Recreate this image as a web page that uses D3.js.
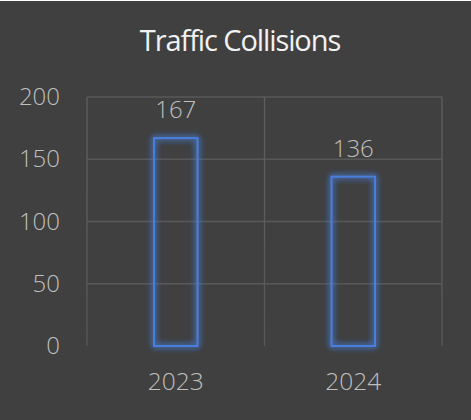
<!DOCTYPE html>
<html>
<head>
<meta charset="utf-8">
<script src="https://cdn.jsdelivr.net/npm/d3@7"></script>
<style>
  html, body { margin: 0; padding: 0; background: #ffffff; }
  svg { display: block; }
</style>
</head>
<body>
<div id="chart"></div>
<script>
// chart data
var years = ["2023", "2024"];
var collisions = [167, 136];
var yTicks = [0, 50, 100, 150, 200];
var chartTitle = "Traffic Collisions";

var W = 471, H = 420;
var margin = {top: 97, right: 29, bottom: 74, left: 87};
var width = W - margin.left - margin.right,
    height = H - margin.top - margin.bottom;

var svg = d3.select("#chart")
  .append("svg")
    .attr("width", W)
    .attr("height", H);

// background
svg.append("rect")
    .attr("x", 0).attr("y", 1)
    .attr("width", W).attr("height", H - 1)
    .attr("fill", "#404040");

var defs = svg.append("defs");

// glow around bar outlines
var glow = defs.append("filter")
    .attr("id", "glow")
    .attr("x", "-50%").attr("y", "-20%")
    .attr("width", "200%").attr("height", "140%");
glow.append("feGaussianBlur")
    .attr("in", "SourceGraphic")
    .attr("stdDeviation", 3.2)
    .attr("result", "blur");
var merge = glow.append("feMerge");
merge.append("feMergeNode").attr("in", "blur");
merge.append("feMergeNode").attr("in", "blur");
merge.append("feMergeNode").attr("in", "SourceGraphic");

// vertical gridlines fade out toward the bottom
var fade = defs.append("linearGradient")
    .attr("id", "fade")
    .attr("gradientUnits", "userSpaceOnUse")
    .attr("x1", 0).attr("y1", margin.top)
    .attr("x2", 0).attr("y2", margin.top + height);
fade.append("stop").attr("offset", "0%").attr("stop-color", "#5e5e5e");
fade.append("stop").attr("offset", "60%").attr("stop-color", "#575757");
fade.append("stop").attr("offset", "100%").attr("stop-color", "#404040");

var g = svg.append("g")
    .attr("transform", "translate(" + margin.left + "," + margin.top + ")");

var x = d3.scaleBand()
    .domain(years)
    .range([0, width])
    .paddingInner(0.755)
    .paddingOuter(0.3775);

var y = d3.scaleLinear()
    .domain([0, 200])
    .range([height, 0]);

// horizontal gridlines (no line at zero)
g.selectAll(".hgrid")
  .data(yTicks.filter(function(d) { return d > 0; }))
  .enter()
  .append("line")
    .attr("class", "hgrid")
    .attr("x1", 0).attr("x2", width)
    .attr("y1", function(d) { return y(d); })
    .attr("y2", function(d) { return y(d); })
    .attr("stroke", "#585858")
    .attr("stroke-width", 1.3);

// vertical gridlines at category boundaries
var step = width / years.length;
g.selectAll(".vgrid")
  .data(d3.range(years.length + 1))
  .enter()
  .append("line")
    .attr("class", "vgrid")
    .attr("x1", function(i) { return i * step; })
    .attr("x2", function(i) { return i * step; })
    .attr("y1", y(200))
    .attr("y2", y(0))
    .attr("stroke", "url(#fade)")
    .attr("stroke-width", 1.3);

// y axis labels
var yAxis = g.append("g")
    .call(d3.axisLeft(y).tickValues(yTicks).tickSize(0).tickPadding(27));
yAxis.select(".domain").remove();
yAxis.selectAll("text")
    .attr("fill", "#bfbfbf")
    .style("font-family", "'Open Sans', sans-serif")
    .style("font-weight", 300)
    .style("font-size", "24px");

// x axis labels
var xAxis = g.append("g")
    .attr("transform", "translate(0," + height + ")")
    .call(d3.axisBottom(x).tickSize(0).tickPadding(27));
xAxis.select(".domain").remove();
xAxis.selectAll("text")
    .attr("fill", "#bfbfbf")
    .style("font-family", "'Open Sans', sans-serif")
    .style("font-weight", 300)
    .style("font-size", "24.5px");

// bars: outlined with a blue glow
g.selectAll(".bar")
  .data(collisions)
  .enter()
  .append("rect")
    .attr("class", "bar")
    .attr("x", function(d, i) { return x(years[i]); })
    .attr("y", function(d) { return y(d); })
    .attr("width", x.bandwidth())
    .attr("height", function(d) { return y(0) - y(d); })
    .attr("fill", "none")
    .attr("stroke", "#4a7fdc")
    .attr("stroke-width", 2)
    .attr("filter", "url(#glow)");

// value labels
g.selectAll(".val")
  .data(collisions)
  .enter()
  .append("text")
    .attr("class", "val")
    .attr("x", function(d, i) { return x(years[i]) + x.bandwidth() / 2; })
    .attr("y", function(d) { return y(d) - 20; })
    .attr("text-anchor", "middle")
    .attr("fill", "#bfbfbf")
    .style("font-family", "'Open Sans', sans-serif")
    .style("font-weight", 300)
    .style("font-size", "24px")
    .text(function(d) { return d; });

// title
svg.append("text")
    .attr("x", 240)
    .attr("y", 51)
    .attr("text-anchor", "middle")
    .attr("fill", "#f2f2f2")
    .style("font-family", "'Open Sans', sans-serif")
    .style("font-size", "29px")
    .style("letter-spacing", "-1.1px")
    .text(chartTitle);
</script>
</body>
</html>
